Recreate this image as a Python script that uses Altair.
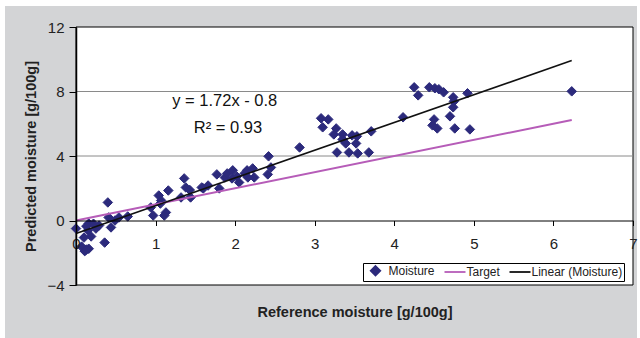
import altair as alt
import pandas as pd

FONT = "Liberation Sans"

# ---- data ----
ref_moisture = [0.00, 0.07, 0.11, 0.16, 0.13, 0.16, 0.15, 0.19, 0.10, 0.25, 0.29, 0.13, 0.22,
                0.36, 0.40, 0.41, 0.44, 0.49, 0.54, 0.65, 0.94, 0.97, 1.04, 1.07, 1.13, 1.11,
                1.16, 1.06, 1.36, 1.38, 1.32, 1.44, 1.60, 1.43, 1.58, 1.66, 1.77, 1.80, 1.87,
                1.90, 1.97, 1.96, 2.02, 2.05, 2.12, 2.15, 2.16, 2.22, 2.24, 2.42, 2.45, 2.41,
                2.81, 3.08, 3.17, 3.10, 3.27, 3.24, 3.35, 3.35, 3.47, 3.53, 3.39, 3.52, 3.28,
                3.43, 3.54, 3.68, 3.71, 4.11, 4.25, 4.30, 4.44, 4.51, 4.56, 4.62, 4.74, 4.75,
                4.74, 4.70, 4.50, 4.48, 4.54, 4.76, 4.95, 4.92, 6.23]
pred_moisture = [-0.50, -1.62, -1.90, -1.75, -1.80, -0.19, -0.62, -0.99, -1.06, -0.50, -0.31, -0.35, -0.20,
                 -1.37, 1.12, 0.19, -0.43, 0.00, 0.19, 0.25, 0.81, 0.31, 1.55, 1.24, 0.50, 0.31,
                 1.86, 1.05, 2.61, 2.05, 1.43, 1.43, 1.99, 1.89, 2.05, 2.17, 2.86, 1.99, 2.67,
                 2.92, 3.11, 2.61, 2.73, 2.36, 2.92, 3.11, 2.67, 3.23, 2.67, 3.98, 3.29, 2.86,
                 4.53, 6.34, 6.27, 5.78, 5.71, 5.34, 5.34, 5.03, 5.28, 5.22, 4.78, 4.78, 4.22,
                 4.22, 4.16, 4.22, 5.53, 6.40, 8.26, 7.76, 8.26, 8.20, 8.14, 7.95, 7.64, 7.39,
                 7.02, 6.46, 6.27, 5.90, 5.71, 5.71, 5.65, 7.89, 8.01]

series_names = ["Moisture", "Target", "Linear (Moisture)"]
series_colors = ["#2C2A7C", "#B65CB8", "#111111"]

line_x = [0.0, 6.23]          # extent of both lines
trend_slope = 1.72            # from the equation printed on the chart
trend_intercept = -0.8

eq_labels = ["y = 1.72x - 0.8", "R\u00b2 = 0.93"]
eq_x = [1.87, 1.91]
eq_y = [7.42, 5.74]

x_ticks = [0, 1, 2, 3, 4, 5, 6, 7]
y_ticks = [-4, 0, 4, 8, 12]
grid_values = [4, 8]

# ---- tables ----
pts = pd.DataFrame({"x": ref_moisture, "y": pred_moisture, "series": "Moisture"})
target = pd.DataFrame({"x": line_x, "y": line_x})
trend = pd.DataFrame({"x": line_x, "y": [trend_slope * v + trend_intercept for v in line_x]})
eq = pd.DataFrame({"x": eq_x, "y": eq_y, "t": eq_labels})
grid = pd.DataFrame({"x": [0.0, 0.0], "y": grid_values})
one = pd.DataFrame({"a": [0]})

W, H = 557, 258
xs = alt.Scale(domain=[0, 7], nice=False, zero=False)
ys = alt.Scale(domain=[-4, 12], nice=False, zero=False)

diamond = "M0,-0.95L0.95,0L0,0.95L-0.95,0Z"
stroke_sym = "M-1.8,0L2.4,0"

fill_scale = alt.Scale(domain=series_names, range=series_colors)
shape_scale = alt.Scale(domain=series_names, range=[diamond, stroke_sym, stroke_sym])

legend = alt.Legend(
    orient="none", legendX=287, legendY=236, direction="horizontal", title=None,
    fillColor="white", strokeColor="black", padding=1.5,
    labelFont=FONT, labelFontSize=12, labelColor="#222222",
    symbolSize=100, symbolStrokeWidth=1.8, columnPadding=5, labelOffset=7,
    symbolOffset=5,
)

x_axis = alt.Axis(
    values=x_ticks, format="d", orient="bottom", offset=-64.5,
    domainColor="black", domainWidth=1, tickColor="black", tickSize=5,
    labelFont=FONT, labelFontSize=15, labelColor="#222222", labelPadding=11,
    grid=False, zindex=1, labelFlush=False,
    title="Reference moisture [g/100g]", titleFont=FONT, titleFontSize=14.5,
    titleFontWeight="bold", titleColor="#222222", titleY=95.5, titleBaseline="alphabetic",
)
y_axis = alt.Axis(
    values=y_ticks, orient="left",
    domainColor="black", domainWidth=1.5, tickColor="black", tickSize=7,
    labelFont=FONT, labelFontSize=15, labelColor="#222222", labelPadding=5,
    grid=False, zindex=1, labelFlush=False,
    title="Predicted moisture [g/100g]", titleFont=FONT, titleFontSize=14.5,
    titleFontWeight="bold", titleColor="#222222", titleX=-41, titleY=H / 2,
    titleAngle=-90, titleAlign="center", titleBaseline="alphabetic",
)

X = alt.X("x:Q", scale=xs, axis=x_axis)
Y = alt.Y("y:Q", scale=ys, axis=y_axis)

bg = alt.Chart(one).mark_rect(fill="#D3D4D6").encode(
    x=alt.value(-71), x2=alt.value(561), y=alt.value(-21), y2=alt.value(311))
box = alt.Chart(one).mark_rect(fill="white", stroke="black", strokeWidth=1).encode(
    x=alt.value(0), x2=alt.value(W), y=alt.value(0), y2=alt.value(H))
grid_l = alt.Chart(grid).mark_rule(color="#8A8A8A", strokeWidth=1).encode(y=Y)

points = alt.Chart(pts).mark_point(filled=True, opacity=1, size=100, strokeWidth=1).encode(
    x=X, y=Y,
    fill=alt.Fill("series:N", scale=fill_scale, legend=legend),
    stroke=alt.Stroke("series:N", scale=fill_scale, legend=legend),
    shape=alt.Shape("series:N", scale=shape_scale, legend=legend),
)

target_l = alt.Chart(target).mark_line(strokeWidth=2, color=series_colors[1]).encode(x=X, y=Y)
trend_l = alt.Chart(trend).mark_line(strokeWidth=1.6, color=series_colors[2]).encode(x=X, y=Y)

eq_t = alt.Chart(eq).mark_text(font=FONT, fontSize=16.5, color="#111111",
                               align="center", baseline="middle").encode(x=X, y=Y, text="t:N")

chart = alt.layer(bg, box, grid_l, points, target_l, trend_l, eq_t).properties(
    width=W, height=H,
    autosize=alt.AutoSizeParams(type="none"),
    padding={"left": 76, "top": 27, "right": 7, "bottom": 53},
    background="white",
).configure_view(stroke=None)

chart.save("out.html", embed_options={"renderer": "svg", "actions": False})
